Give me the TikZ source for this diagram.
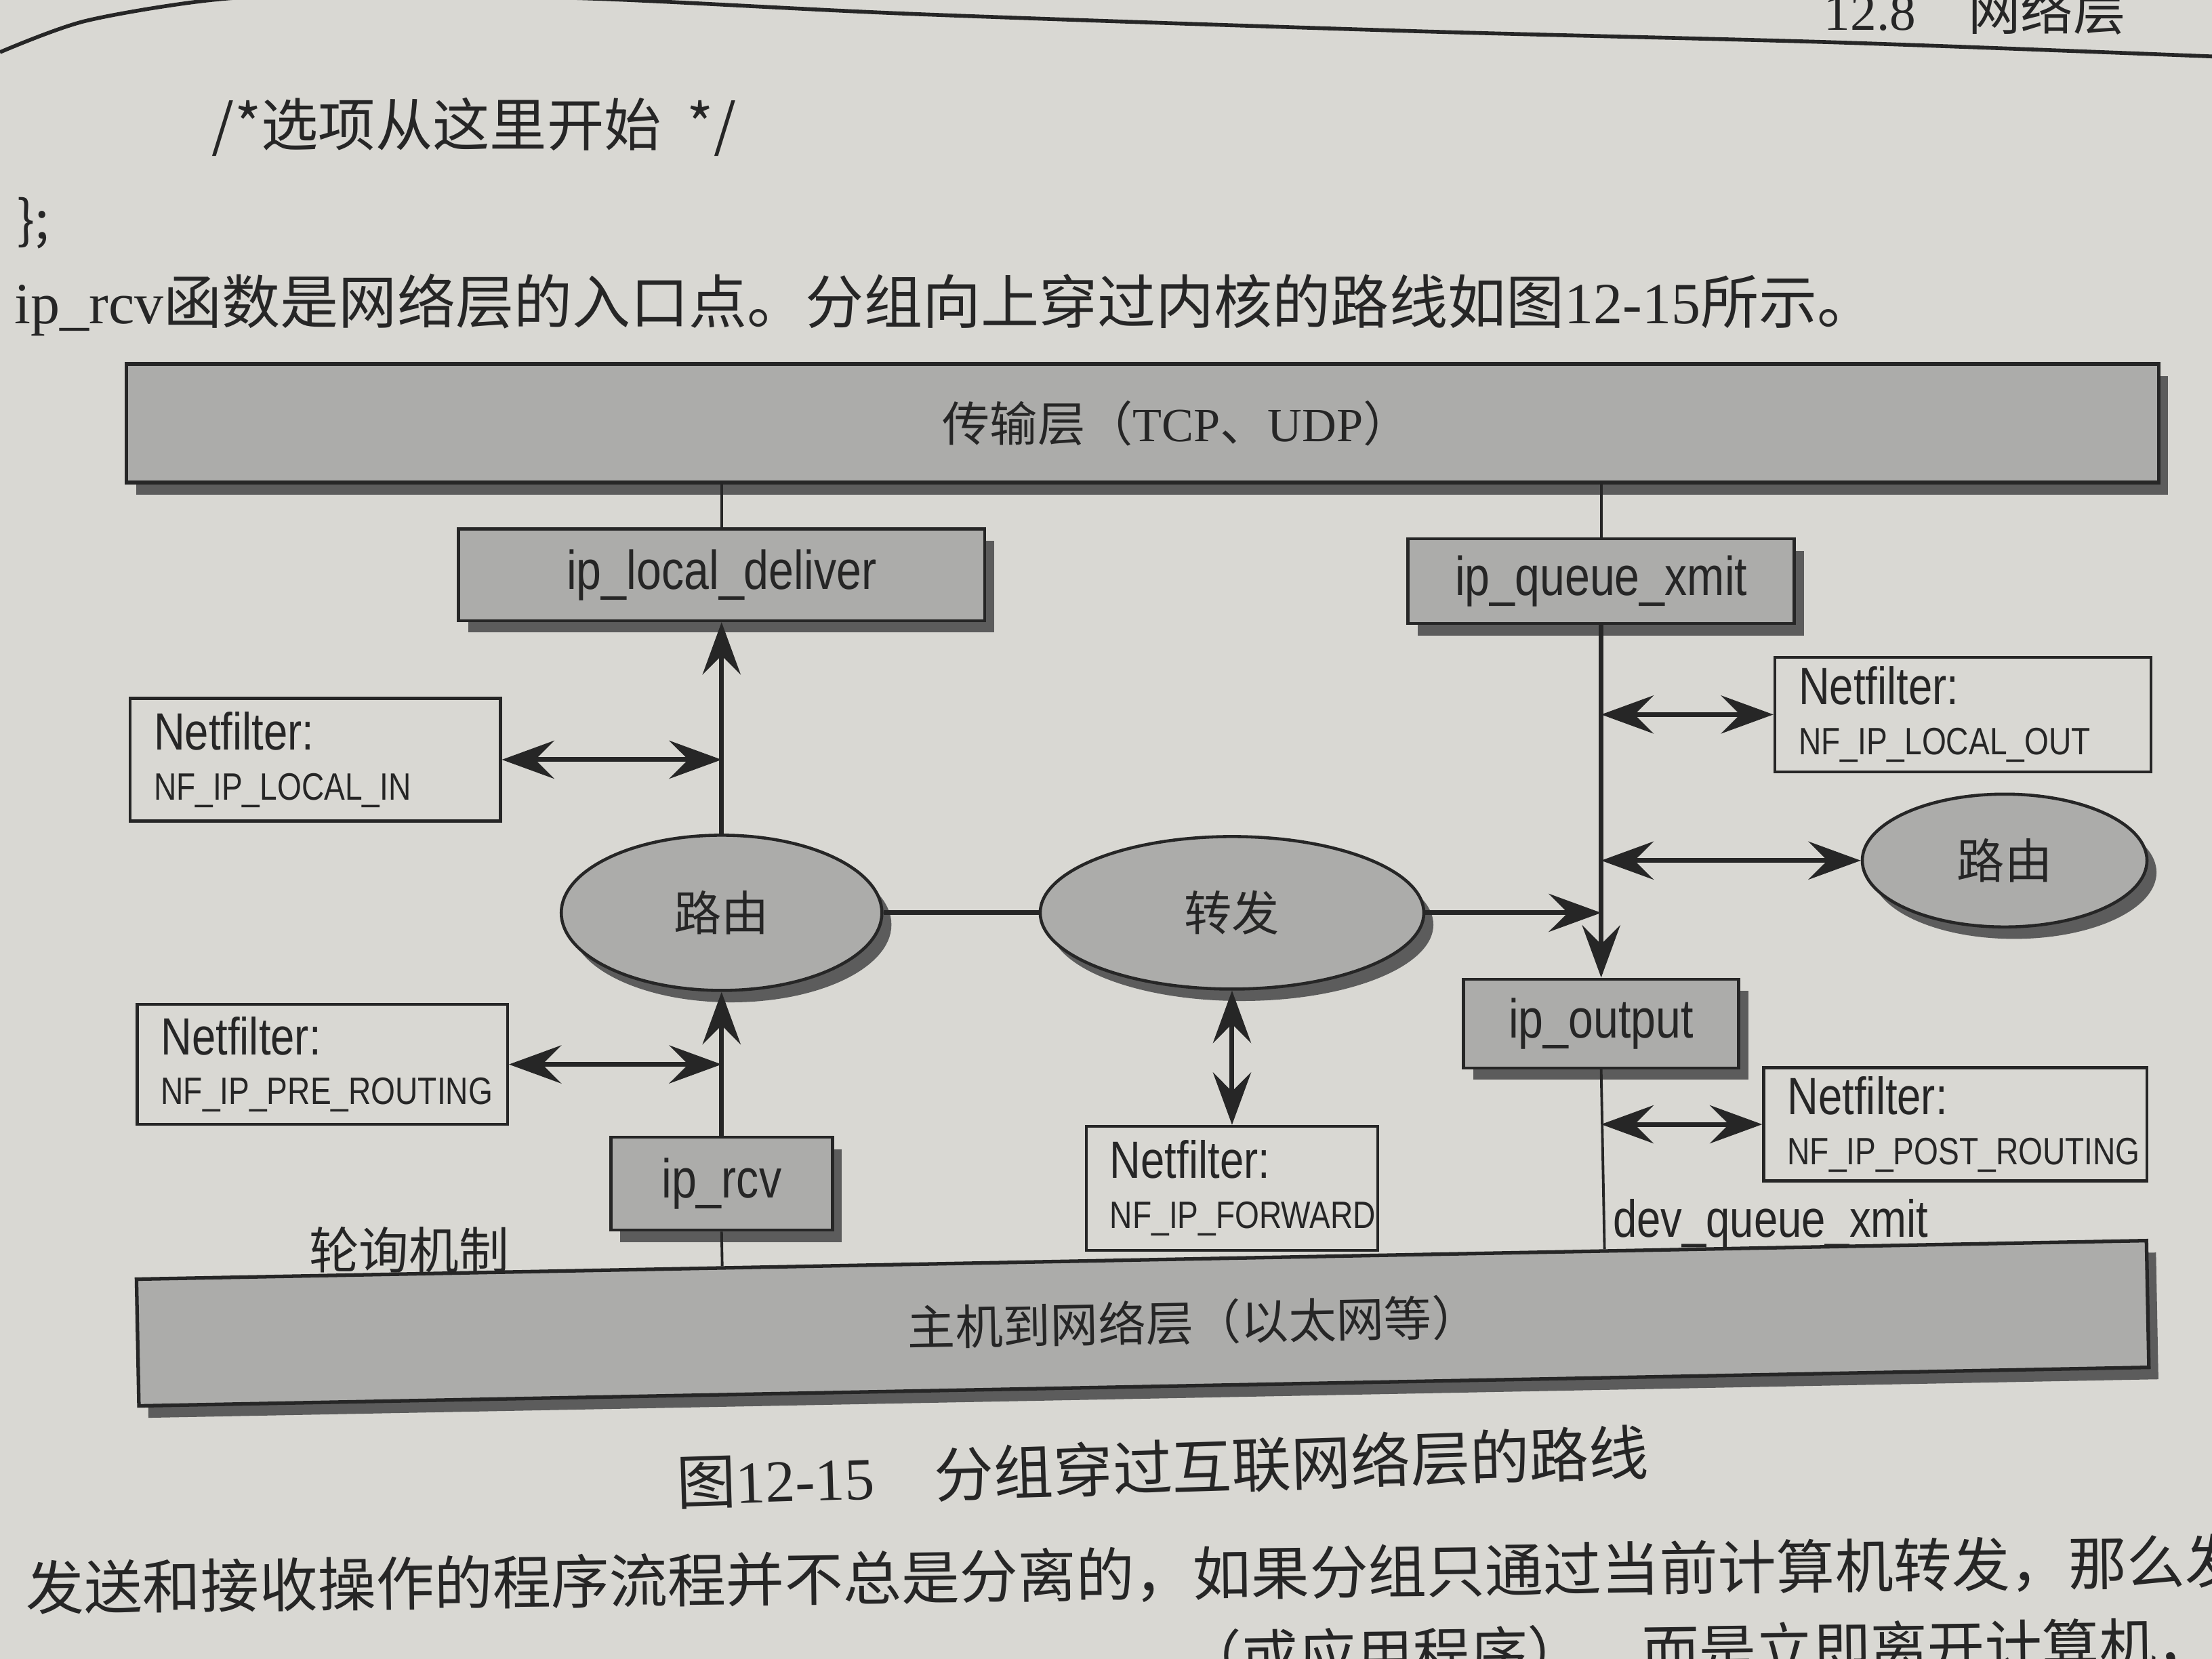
\documentclass[tikz,border=0pt]{standalone}
\usepackage{fontspec}
\newfontfamily\cjk{Noto Sans CJK SC}
\newfontfamily\narrow[FakeStretch=0.82]{Liberation Sans}
\newfontfamily\serifr{Liberation Serif}
\usepackage{tikz}
\usetikzlibrary{arrows.meta,shapes,positioning,shadows,calc}
\newcommand\fsz[1]{\fontsize{#1}{#1}\selectfont}
\definecolor{paper}{RGB}{217,216,211}
\definecolor{boxgray}{RGB}{172,172,170}
\definecolor{shade}{RGB}{92,92,92}
\definecolor{ink}{RGB}{38,38,38}

\begin{document}
\begin{tikzpicture}[x=0.020816cm,y=-0.020816cm,
>={Stealth[length=22pt,width=16pt,inset=8pt]},
func/.style={
draw=ink,
fill=boxgray,
line width=1.3pt,
inner sep=0pt,
font=\narrow\fsz{23},
text=ink,
drop shadow={shadow xshift=4pt,shadow yshift=-5pt,fill=shade,opacity=1},
},
hub/.style={func,ellipse,font=\cjk\fsz{20}},
band/.style={func,font=\cjk\fsz{20},line width=1.5pt},
nfbox/.style={draw=ink,line width=1.2pt,align=left,inner xsep=10pt,inner ysep=0pt,font=\narrow,text=ink},
conn/.style={draw=ink,line width=2pt},
wire/.style={draw=ink,line width=1.1pt},
txt/.style={font=\cjk,text=ink,inner sep=0pt}
]
\useasboundingbox (0,0) rectangle (1568,1176);
\fill[paper] (0,0) rectangle (1568,1176);
\draw[ink,line width=1.6pt] plot[smooth] coordinates {(0,37) (60,15) (150,0) (240,-4) (420,-1) (650,10) (1000,22) (1300,30) (1568,40)};

% page text
\node at (1400,7) [txt,font=\cjk\fsz{22}] (header) {{\serifr 12.8}\quad 网络层};
\node at (150,90) [txt,anchor=west,font=\cjk\fsz{24}] (optline) {/*选项从这里开始\ \ */};
\node at (12,158) [txt,anchor=west,font=\cjk\fsz{22}] (optend) {\};};
\node at (10,216) [txt,anchor=west,font=\cjk\fsz{24.5}] (intro) {{\serifr ip\_rcv}函数是网络层的入口点。分组向上穿过内核的路线如图{\serifr 12-15}所示。};

% layers
\node at (810,300) [band,minimum width=29.98cm,minimum height=1.75cm] (transport) {\hspace*{1cm}传输层（{\serifr TCP}、{\serifr UDP}）};
\node at (810,938) [band,rotate=1.1,minimum width=29.66cm,minimum height=1.87cm] (hostnet) {\hspace*{1.5cm}主机到网络层（以太网等）};

% functions
\node at (511.5,407.5) [func,minimum width=7.76cm,minimum height=1.35cm] (ipl) {ip\_local\_deliver};
\node [hub,below=3.12cm of ipl,minimum width=4.73cm,minimum height=2.29cm] (rtin) {路由};
\node [func,below=2.12cm of rtin,minimum width=3.27cm,minimum height=1.37cm] (ipr) {ip\_rcv};
\node [hub,right=2.29cm of rtin,minimum width=5.66cm,minimum height=2.25cm] (fw) {转发};
\node at (1135,412) [func,minimum width=5.70cm,minimum height=1.25cm] (ipq) {ip\_queue\_xmit};
\node [func,below=5.2cm of ipq,minimum width=4.06cm,minimum height=1.31cm] (ipo) {ip\_output};
\node at (1421,610) [hub,minimum width=4.20cm,minimum height=1.96cm] (rtout) {路由};

% netfilter hooks
\node at (223.5,538.5) [nfbox,text width=4.76cm,minimum height=1.81cm] (nflocalin) {{\fsz{22}Netfilter:}\\[9pt]{\fsz{16}NF\_IP\_LOCAL\_IN}};
\node at (228.5,754.5) [nfbox,text width=4.76cm,minimum height=1.77cm] (nfprert) {{\fsz{22}Netfilter:}\\[9pt]{\fsz{16}NF\_IP\_PRE\_ROUTING}};
\node [nfbox,below=1.98cm of fw,text width=3.60cm,minimum height=1.83cm] (nffw) {{\fsz{22}Netfilter:}\\[9pt]{\fsz{16}NF\_IP\_FORWARD}};
\node at (1391.5,506.5) [nfbox,text width=4.85cm,minimum height=1.69cm] (nflocalout) {{\fsz{22}Netfilter:}\\[9pt]{\fsz{16}NF\_IP\_LOCAL\_OUT}};
\node at (1386,797) [nfbox,text width=4.95cm,minimum height=1.67cm] (nfpost) {{\fsz{22}Netfilter:}\\[9pt]{\fsz{16}NF\_IP\_POST\_ROUTING}};

\node at (290,886) [txt,font=\cjk\fsz{21}] (poll) {轮询机制};
\node at (1143,877) [anchor=base west,font=\narrow\fsz{22},text=ink,inner sep=0pt] (devq) {dev\_queue\_xmit};

\draw[wire] (ipl.north) -- (ipl.north |- transport.south);
\draw[wire] (ipq.north) -- (ipq.north |- transport.south);
\draw[wire] (ipr.south) -- ($(hostnet.north west)!(ipr.south)!(hostnet.north east)$);
\draw[wire] (ipo.south) -- ($(hostnet.north west)!(ipo.south)!(hostnet.north east)$);
\draw[conn,->] (ipr.north) -- (rtin.south);
\draw[conn,->] (rtin.north) -- (ipl.south);
\draw[conn] (rtin.east) -- (fw.west);
\draw[conn,->] (fw.east) -- (fw.east -| ipq.south);
\draw[conn,->] (ipq.south) -- (ipo.north);
\draw[conn,<->] (fw.south) -- (nffw.north);
\foreach \n in {nflocalin,nfprert}
	\draw[conn,<->] (\n.east) -- (\n.east -| rtin.south);
\foreach \n in {nflocalout,rtout,nfpost}
	\draw[conn,<->] (\n.west -| ipq.south) -- (\n.west);

% caption and page text below
\node at (824,1040) [txt,rotate=1.8,font=\cjk\fsz{25}] (caption) {图{\serifr 12-15}\hspace{1em}分组穿过互联网络层的路线};
\node at (18,1126) [txt,anchor=west,rotate=0.7,font=\cjk\fsz{24.5}] (para) {发送和接收操作的程序流程并不总是分离的，如果分组只通过当前计算机转发，那么发送};
\node at (1610,1165) [txt,anchor=east,rotate=0.7,font=\cjk\fsz{24}] (paranext) {（或应用程序），而是立即离开计算机，发};
\end{tikzpicture}
\end{document}
